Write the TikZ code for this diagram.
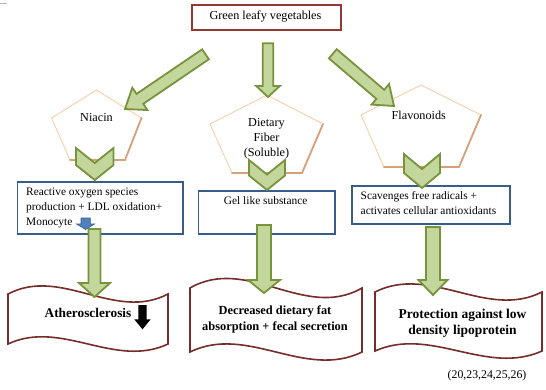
\documentclass[tikz,border=0pt]{standalone}
\usepackage{fontspec}
\setmainfont{Liberation Serif}
\usetikzlibrary{calc}
\definecolor{gfill}{RGB}{195,214,155}
\definecolor{gline}{RGB}{119,147,60}
\definecolor{topred}{RGB}{149,55,53}
\definecolor{banred}{RGB}{118,44,42}
\definecolor{bluel}{RGB}{56,93,138}
\definecolor{peach}{RGB}{250,200,160}
\definecolor{pentan}{RGB}{215,160,120}
\definecolor{barrow}{RGB}{79,129,189}
\tikzset{
  garrow/.style={fill=gfill, draw=gline, line width=1.8pt, line join=miter},
  pentthin/.style={draw=peach, line width=0.8pt},
  pentthick/.style={draw=pentan, line width=1.8pt, line cap=round},
  bluebox/.style={draw=bluel, line width=1.6pt, fill=white, inner sep=0pt},
  topbox/.style={draw=topred, line width=1.6pt, fill=white, inner sep=0pt},
  banner/.style={draw=banred, line width=1.6pt, fill=white},
  lbl/.style={font=\fontsize{12.2}{15}\selectfont, inner sep=0pt, align=center},
  boxtxt/.style={font=\fontsize{11.4}{15}\selectfont, inner sep=0pt, align=left, anchor=west},
  bantxt/.style={font=\bfseries\fontsize{12.4}{16}\selectfont, inner sep=0pt, align=center},
}
\newcommand{\blockarrow}[5]{%
  \coordinate (bah) at ($(#2)!#5!(#1)$);
  \path[garrow] ($(#1)!#3!90:(#2)$) -- ($(bah)!#3!90:(#2)$) -- ($(bah)!#4!90:(#2)$) -- (#2)
    -- ($(bah)!#4!-90:(#2)$) -- ($(bah)!#3!-90:(#2)$) -- ($(#1)!#3!-90:(#2)$) -- cycle;
}
\newcommand{\chevdown}[5]{% x0, x1, top, bottom, depth
  \path[garrow] (#1,#3) -- ({(#1+#2)/2},{#3+#5}) -- (#2,#3) -- (#2,{#4-#5}) -- ({(#1+#2)/2},#4) -- (#1,{#4-#5}) -- cycle;
}
\begin{document}
\begin{tikzpicture}[x=1pt,y=-1pt]
\useasboundingbox (0,0) rectangle (546,389);
\draw[gray!60, line width=0.8pt] (0,3) -- (7,3);

% top box
\node[topbox, minimum width=149pt, minimum height=25.3pt, anchor=north west] (top) at (191,4) {};
\node[lbl] (toptxt) at (265.5,16.5) {Green leafy vegetables};

% pentagons
\coordinate (p1t) at (96.5,90); \coordinate (p1l) at (51.5,118); \coordinate (p1bl) at (70,160);
\coordinate (p1br) at (125,160); \coordinate (p1r) at (141.5,118);
\draw[pentthin] (p1t) -- (p1r) -- (p1br) -- (p1bl) -- (p1l) -- cycle;
\draw[pentthick] (p1r) -- (p1br) -- (p1bl);
\coordinate (p2t) at (267,95); \coordinate (p2l) at (210,124); \coordinate (p2bl) at (232,173);
\coordinate (p2br) at (302,173); \coordinate (p2r) at (323,124);
\draw[pentthin] (p2t) -- (p2r) -- (p2br) -- (p2bl) -- (p2l) -- cycle;
\draw[pentthick] (p2r) -- (p2br) -- (p2bl);
\coordinate (p3t) at (421,85); \coordinate (p3l) at (361,115); \coordinate (p3bl) at (384,167);
\coordinate (p3br) at (459,167); \coordinate (p3r) at (481,115);
\draw[pentthin] (p3t) -- (p3r) -- (p3br) -- (p3bl) -- (p3l) -- cycle;
\draw[pentthick] (p3r) -- (p3br) -- (p3bl);
\node[lbl] (niacin) at (96.5,118) {Niacin};
\node[lbl] (fiber) at (266.5,139) {Dietary\\Fiber\\(Soluble)};
\node[lbl] (flavo) at (418.8,115) {Flavonoids};

% blue boxes
\node[bluebox, minimum width=165.2pt, minimum height=52pt, anchor=north west] (b1) at (16.8,181) {};
\node[bluebox, minimum width=136.5pt, minimum height=43.3pt, anchor=north west] (b2) at (197.5,190) {};
\node[bluebox, minimum width=158pt, minimum height=38.3pt, anchor=north west] (b3) at (351,185) {};
\node[boxtxt] (b1t) at (26,207.7) {Reactive oxygen species\\production + LDL oxidation+\\Monocyte};
\node[boxtxt, anchor=center] (b2t) at (265.7,201) {Gel like substance};
\node[boxtxt] (b3t) at (360.5,203.3) {Scavenges free radicals +\\activates cellular antioxidants};
\path[fill=barrow, draw=bluel, line width=0.6pt] (81,218) -- (90.3,218) -- (90.3,224) -- (94.5,224)
  -- (85.6,229.5) -- (76.5,224) -- (81,224) -- cycle;

% banners
\draw[banner] (8,294) .. controls (61.3,266) and (114.7,322) .. (168,294) -- (168,344)
  .. controls (114.7,369) and (61.3,319) .. (8,344) -- cycle;
\draw[banner] (190,288) .. controls (247.3,255) and (304.7,321) .. (362,288) -- (362,352)
  .. controls (304.7,380) and (247.3,324) .. (190,352) -- cycle;
\draw[banner] (375,292) .. controls (430.7,264) and (486.3,320) .. (542,292) -- (542,351)
  .. controls (486.3,376) and (430.7,326) .. (375,351) -- cycle;
\node[bantxt, font=\bfseries\fontsize{13.3}{16}\selectfont] (ath) at (88,312.7) {Atherosclerosis};
\path[fill=black] (138.3,305) -- (146.7,305) -- (146.7,319.3) -- (150.7,319.3) -- (142.5,329.3)
  -- (134.3,319.3) -- (138.3,319.3) -- cycle;
\node[bantxt] (dec) at (275,319.7) {Decreased dietary fat\\absorption + fecal secretion};
\node[bantxt, font=\bfseries\fontsize{13.5}{16.7}\selectfont] (prot) at (462.5,323.3) {Protection against low\\density lipoprotein};

% arrows
\coordinate (a1s) at (205.5,54.3); \coordinate (a1e) at (125,109);
\coordinate (a2s) at (268,43.3);   \coordinate (a2e) at (268,97);
\coordinate (a3s) at (332.8,53.8); \coordinate (a3e) at (394,106);
\blockarrow{a1s}{a1e}{6pt}{13.5pt}{18pt}
\blockarrow{a2s}{a2e}{5.3pt}{11.8pt}{11pt}
\blockarrow{a3s}{a3e}{6pt}{13.5pt}{18pt}
\chevdown{76}{113.5}{148}{180}{15}
\chevdown{249}{285}{160}{190}{14.5}
\chevdown{404}{440}{154}{188}{15}
\coordinate (d1s) at (94.5,229); \coordinate (d1e) at (94.5,297);
\coordinate (d2s) at (264,225);  \coordinate (d2e) at (264,293);
\coordinate (d3s) at (433,227);  \coordinate (d3e) at (433,295);
\blockarrow{d1s}{d1e}{6pt}{15.5pt}{14pt}
\blockarrow{d2s}{d2e}{7pt}{16pt}{13pt}
\blockarrow{d3s}{d3e}{7pt}{14.5pt}{15pt}

\node[font=\fontsize{11.8}{14}\selectfont, inner sep=0pt] (cite) at (487,376) {(20,23,24,25,26)};
\end{tikzpicture}
\end{document}
